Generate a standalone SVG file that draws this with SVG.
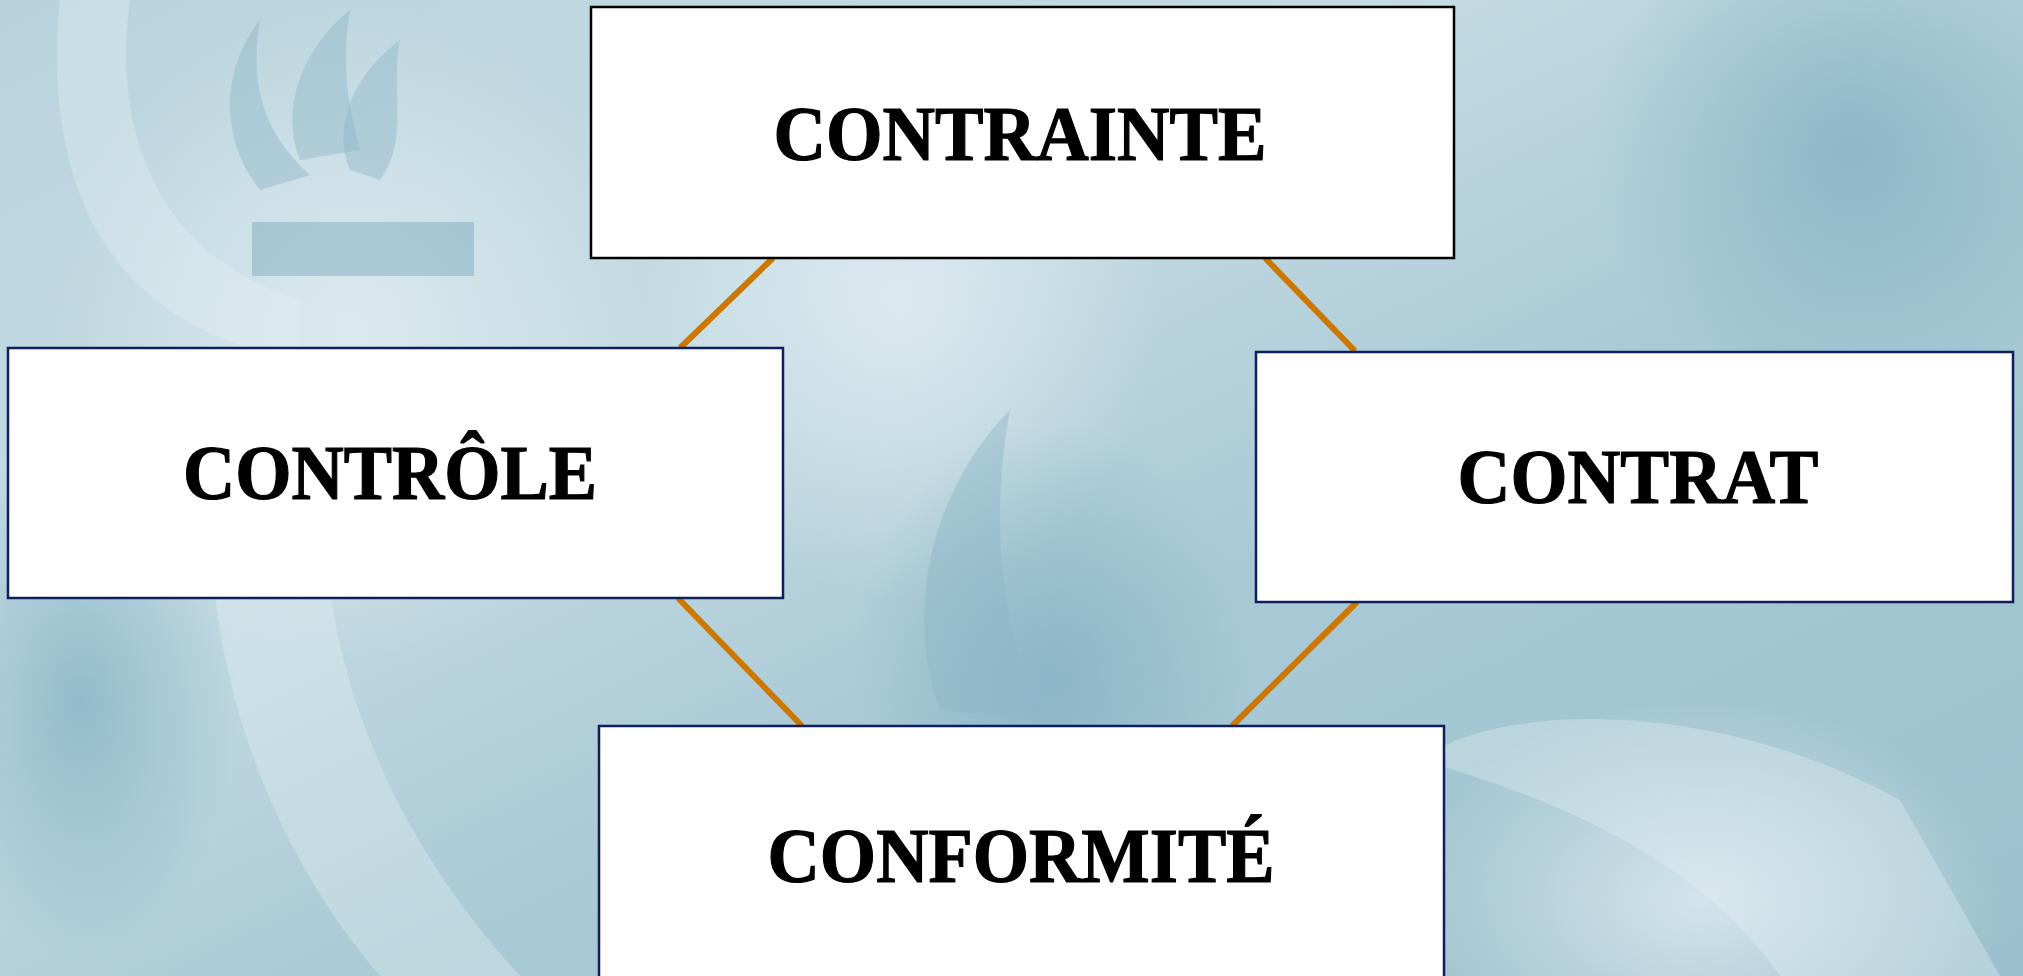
<svg xmlns="http://www.w3.org/2000/svg" width="2023" height="976" viewBox="0 0 2023 976">
  <defs>
    <linearGradient id="bg" x1="0" y1="0" x2="1" y2="1">
      <stop offset="0" stop-color="#b9d3dd"/>
      <stop offset="0.35" stop-color="#c4dbe3"/>
      <stop offset="0.6" stop-color="#a9c9d5"/>
      <stop offset="1" stop-color="#9cc0ce"/>
    </linearGradient>
    <radialGradient id="glowL" cx="0.5" cy="0.5" r="0.5">
      <stop offset="0" stop-color="#e4eff3" stop-opacity="0.75"/>
      <stop offset="1" stop-color="#e4eff3" stop-opacity="0"/>
    </radialGradient>
    <radialGradient id="darkR" cx="0.5" cy="0.5" r="0.5">
      <stop offset="0" stop-color="#7fadc0" stop-opacity="0.7"/>
      <stop offset="1" stop-color="#7fadc0" stop-opacity="0"/>
    </radialGradient>
    <style>
      .box { fill: #ffffff; stroke: #0f1f5c; stroke-width: 2.5; }
      .boxk { fill: #ffffff; stroke: #000000; stroke-width: 2.5; }
      .lbl { font-family: "Liberation Serif", "Times New Roman", serif; font-weight: bold; font-size: 78px; fill: #000000; stroke: #000000; stroke-width: 1.2; text-anchor: middle; }
      .conn { stroke: #cc7700; stroke-width: 6; fill: none; }
      .flame { fill: #8db6c7; opacity: 0.45; }
      .light { fill: #e6f0f4; opacity: 0.35; }
    </style>
  </defs>

  <!-- background -->
  <rect x="0" y="0" width="2023" height="976" fill="url(#bg)"/>
  <ellipse cx="350" cy="330" rx="300" ry="330" fill="url(#glowL)"/>
  <ellipse cx="900" cy="300" rx="260" ry="300" fill="url(#glowL)"/>
  <ellipse cx="1850" cy="150" rx="260" ry="260" fill="url(#darkR)"/>
  <ellipse cx="1700" cy="900" rx="300" ry="200" fill="url(#glowL)"/>
  <ellipse cx="1050" cy="680" rx="200" ry="260" fill="url(#darkR)"/>
  <ellipse cx="80" cy="700" rx="160" ry="260" fill="url(#darkR)"/>
  <path class="light" d="M60 0 C 40 200 120 330 300 360 L 300 300 C 170 260 110 150 130 0 Z"/>
  <path class="light" d="M230 380 C 180 560 230 800 380 976 L 520 976 C 360 800 300 600 330 380 Z"/>
  <path class="light" d="M1420 760 C 1500 700 1720 700 1900 800 L 2000 976 L 1780 976 C 1700 860 1560 800 1420 760 Z"/>
  <path class="flame" d="M260 190 C 220 140 220 70 260 20 C 250 80 260 130 310 175 Z"/>
  <path class="flame" d="M300 160 C 280 110 300 50 350 10 C 340 70 350 110 360 150 Z"/>
  <path class="flame" d="M350 170 C 330 120 360 70 400 40 C 390 90 410 140 380 180 Z"/>
  <rect x="252" y="222" width="222" height="54" fill="#86b0c2" opacity="0.55"/>
  <path class="flame" d="M940 710 C 900 600 940 480 1010 410 C 990 520 1000 620 1040 720 Z"/>
  <path class="flame" d="M1240 120 C 1290 60 1360 30 1420 20 C 1370 70 1330 130 1310 200 Z"/>

  <!-- connectors -->
  <g id="connectors">
    <line class="conn" x1="773" y1="258" x2="680" y2="348"/>
    <line class="conn" x1="1265" y1="258" x2="1355" y2="351"/>
    <line class="conn" x1="678" y1="598" x2="802" y2="726"/>
    <line class="conn" x1="1357" y1="602" x2="1232" y2="726"/>
  </g>

  <g id="node-contrainte">
    <rect class="boxk" x="591" y="7" width="863" height="251"/>
    <text class="lbl" x="1020" y="160" textLength="493" lengthAdjust="spacingAndGlyphs">CONTRAINTE</text>
  </g>
  <g id="node-controle">
    <rect class="box" x="8" y="348" width="775" height="250"/>
    <text class="lbl" x="390" y="499" textLength="414" lengthAdjust="spacingAndGlyphs">CONTRÔLE</text>
  </g>
  <g id="node-contrat">
    <rect class="box" x="1256" y="352" width="757" height="250"/>
    <text class="lbl" x="1638" y="503" textLength="361" lengthAdjust="spacingAndGlyphs">CONTRAT</text>
  </g>
  <g id="node-conformite">
    <rect class="box" x="599" y="726" width="845" height="270"/>
    <text class="lbl" x="1021" y="882" textLength="507" lengthAdjust="spacingAndGlyphs">CONFORMITÉ</text>
  </g>
</svg>
